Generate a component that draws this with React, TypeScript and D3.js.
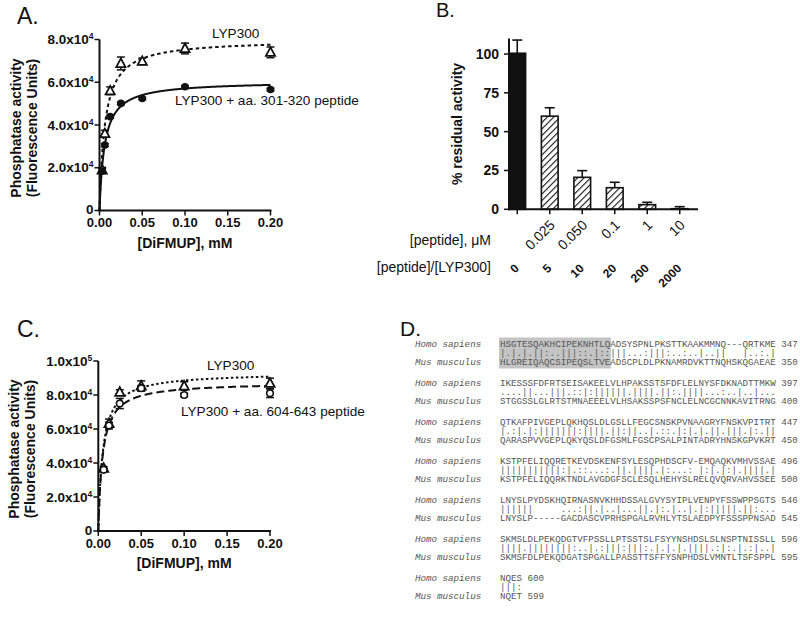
import React from "react";
import * as d3 from "d3";

const SANS = "'Liberation Sans', Arial, Helvetica, sans-serif";
const MONO = "'Liberation Mono', 'Courier New', monospace";

// ---------------- Panel A data ----------------
const aConc = [0.003125, 0.00625, 0.0125, 0.025, 0.05, 0.1, 0.2];
const aLypMean = [19000, 36000, 56000, 68800, 69800, 75800, 74000];
const aLypErr = [1200, 1500, 1800, 3000, 1500, 2500, 2500];
const aPepMean = [18500, 30600, 43900, 50100, 52400, 57900, 56600];
const aPepErr = [1200, 700, 700, 600, 500, 500, 600];
const aLypFit = [80000, 0.0063]; // Vmax, Km
const aPepFit = [60500, 0.006];
const aYTicks = [0, 20000, 40000, 60000, 80000];

// ---------------- Panel C data ----------------
const cConc = [0.00625, 0.0125, 0.025, 0.05, 0.1, 0.2];
const cLypMean = [36900, 63300, 81600, 85300, 85300, 86900];
const cLypErr = [1000, 2500, 1500, 3000, 2500, 3000];
const cPepMean = [36000, 62000, 75000, 84000, 80000, 81000];
const cPepErr = [800, 2000, 3000, 1500, 1000, 2500];
const cLypFit = [93200, 0.0053];
const cPepFit = [87500, 0.005];
const cYTicks = [0, 20000, 40000, 60000, 80000, 100000];

const xTicks = [0, 0.05, 0.1, 0.15, 0.2];
const xTickLabels = ["0.00", "0.05", "0.10", "0.15", "0.20"];

// ---------------- Panel B data ----------------
const bRatio = ["0", "5", "10", "20", "200", "2000"];
const bConc = ["", "0.025", "0.050", "0.1", "1", "10"];
const bValues = [100.5, 60, 20.6, 13.9, 3, 0.4];
const bErr = [8.5, 5.4, 4.3, 3.5, 1.5, 1.3];
const bYTicks = [0, 25, 50, 75, 100];

// ---------------- Panel D data ----------------
const dHomo = [
  "HSGTESQAKHCIPEKNHTLQADSYSPNLPKSTTKAAKMMNQ---QRTKME",
  "IKESSSFDFRTSEISAKEELVLHPAKSSTSFDFLELNYSFDKNADTTMKW",
  "QTKAFPIVGEPLQKHQSLDLGSLLFEGCSNSKPVNAAGRYFNSKVPITRT",
  "KSTPFELIQQRETKEVDSKENFSYLESQPHDSCFV-EMQAQKVMHVSSAE",
  "LNYSLPYDSKHQIRNASNVKHHDSSALGVYSYIPLVENPYFSSWPPSGTS",
  "SKMSLDLPEKQDGTVFPSSLLPTSSTSLFSYYNSHDSLSLNSPTNISSLL",
  "NQES",
];
const dHomoEnd = [347, 397, 447, 496, 546, 596, 600];
const dMatch = [
  "|.|.|.||:..|||::.|::|||...:|||:..:..|..||   |..:.|",
  "....||...|||.::|:||||||.||||.||:.||||...:..|..|...",
  "|.:|.|:|||||||:||||.||:||..|.::.|:|.|.||.|||.|:.||",
  "|||||||||||:|.::...:.||.||||.|:...: |:|.|:|.||||.|",
  "||||||     ...:||.|..|...||.|:.|..|.|:|||||.||:...",
  "||||.||||||||:..|.:|||:|||:.|.|.|.||||.:|:.|.:|..|",
  "|||:",
];
const dMus = [
  "HLGREIQAQCSIPEQSLTVEADSCPLDLPKNAMRDVKTTNQHSKQGAEAE",
  "STGGSSLGLRTSTMNAEEELVLHSAKSSPSFNCLELNCGCNNKAVITRNG",
  "QARASPVVGEPLQKYQSLDFGSMLFGSCPSALPINTADRYHNSKGPVKRT",
  "KSTPFELIQQRKTNDLAVGDGFSCLESQLHEHYSLRELQVQRVAHVSSEE",
  "LNYSLP-----GACDASCVPRHSPGALRVHLYTSLAEDPYFSSSPPNSAD",
  "SKMSFDLPEKQDGATSPGALLPASSTTSFFYSNPHDSLVMNTLTSFSPPL",
  "NQET",
];
const dMusEnd = [350, 400, 450, 500, 545, 595, 599];
const dHighlight = 20;

function sciLabel(v: number) {
  if (v === 0) return { m: "0", e: "" };
  const e = Math.floor(Math.log10(v));
  const m = (v / Math.pow(10, e)).toFixed(1);
  return { m: m + "x10", e: String(e) };
}

type Series = {
  conc: number[];
  mean: number[];
  err: number[];
  fit: number[];
  marker: "tri" | "dot" | "circle";
  dash: string;
};

function Kinetic(props: {
  xr: [number, number];
  yr: [number, number];
  yMax: number;
  yTicks: number[];
  series: Series[];
  labels: { text: string; x: number; y: number }[];
}) {
  const { xr, yr, yMax, yTicks, series, labels } = props;
  const x = d3.scaleLinear().domain([0, 0.2]).range(xr);
  const y = d3.scaleLinear().domain([0, yMax]).range(yr);
  const x0 = xr[0];
  const y0 = yr[0];
  const curveXs = d3.range(0, 0.2 + 1e-9, 0.0004);
  const midY = (yr[0] + yr[1]) / 2;
  return (
    <g fontFamily={SANS}>
      {series.map((s, si) => {
        const gen = d3
          .line<number>()
          .x((d) => x(d))
          .y((d) => y((s.fit[0] * d) / (s.fit[1] + d)));
        return (
          <path
            key={"c" + si}
            d={gen(curveXs) || ""}
            fill="none"
            stroke="#111"
            strokeWidth={2}
            strokeDasharray={s.dash}
          />
        );
      })}
      {series.map((s, si) =>
        s.conc.map((c, i) => {
          const cx = x(c);
          const top = y(s.mean[i] + s.err[i]);
          const bot = y(s.mean[i] - s.err[i]);
          return (
            <g key={"e" + si + "-" + i} stroke="#111" strokeWidth={1.5}>
              <line x1={cx} x2={cx} y1={top} y2={bot} />
              <line x1={cx - 4} x2={cx + 4} y1={top} y2={top} />
              <line x1={cx - 4} x2={cx + 4} y1={bot} y2={bot} />
            </g>
          );
        })
      )}
      {series.map((s, si) =>
        s.conc.map((c, i) => {
          const cx = x(c);
          const cy = y(s.mean[i]);
          if (s.marker === "tri")
            return (
              <path
                key={"m" + si + "-" + i}
                d={`M${cx},${cy - 5} L${cx + 4.6},${cy + 3.6} L${cx - 4.6},${cy + 3.6} Z`}
                fill="#fff"
                stroke="#111"
                strokeWidth={1.8}
              />
            );
          if (s.marker === "dot")
            return <circle key={"m" + si + "-" + i} cx={cx} cy={cy} r={3.8} fill="#111" />;
          return (
            <circle
              key={"m" + si + "-" + i}
              cx={cx}
              cy={cy}
              r={3.3}
              fill="#fff"
              stroke="#111"
              strokeWidth={1.6}
            />
          );
        })
      )}
      {/* axes */}
      <line x1={x0} x2={x0} y1={y0 + 1} y2={y(yMax)} stroke="#111" strokeWidth={2} />
      <line x1={x0 - 1} x2={x(0.2) + 1} y1={y0} y2={y0} stroke="#111" strokeWidth={2} />
      {yTicks.map((t) => {
        const l = sciLabel(t);
        return (
          <g key={"yt" + t}>
            <line x1={x0 - 5} x2={x0} y1={y(t)} y2={y(t)} stroke="#111" strokeWidth={1.5} />
            <text
              x={x0 - 6}
              y={y(t) + (t === 0 ? 3.5 : 4.5)}
              textAnchor="end"
              fontSize={13.5}
              fontWeight="bold"
              fill="#111"
            >
              {l.m}
              {l.e && (
                <tspan dy={-5} fontSize={8.5}>
                  {l.e}
                </tspan>
              )}
            </text>
          </g>
        );
      })}
      {xTicks.map((t, i) => (
        <g key={"xt" + t}>
          <line x1={x(t)} x2={x(t)} y1={y0} y2={y0 + 5} stroke="#111" strokeWidth={1.5} />
          <text
            x={x(t)}
            y={y0 + 16.5}
            textAnchor="middle"
            fontSize={13}
            fontWeight="bold"
            fill="#111"
          >
            {xTickLabels[i]}
          </text>
        </g>
      ))}
      <text
        x={(xr[0] + xr[1]) / 2}
        y={y0 + 37}
        textAnchor="middle"
        fontSize={14}
        fontWeight="bold"
        fill="#111"
      >
        [DiFMUP], mM
      </text>
      <text
        transform={`translate(${x0 - 79},${midY + 3}) rotate(-90)`}
        textAnchor="middle"
        fontSize={14}
        fontWeight="bold"
        fill="#111"
      >
        Phosphatase activity
      </text>
      <text
        transform={`translate(${x0 - 63},${midY + 3}) rotate(-90)`}
        textAnchor="middle"
        fontSize={14}
        fontWeight="bold"
        fill="#111"
      >
        (Fluorescence Units)
      </text>
      {labels.map((lb, i) => (
        <text key={"lb" + i} x={lb.x} y={lb.y} fontSize={13.6} fill="#111">
          {lb.text}
        </text>
      ))}
    </g>
  );
}

function BarPanel() {
  const x = d3
    .scaleBand<string>()
    .domain(bRatio)
    .range([501, 696])
    .paddingInner(0.486)
    .paddingOuter(0.243);
  const y = d3.scaleLinear().domain([0, 110]).range([209.3, 38.5]);
  const bw = x.bandwidth();
  return (
    <g fontFamily={SANS}>
      <defs>
        <pattern
          id="hatch"
          patternUnits="userSpaceOnUse"
          width={4.6}
          height={4.6}
          patternTransform="rotate(45)"
        >
          <rect width={4.6} height={4.6} fill="#fff" />
          <line x1={0} y1={0} x2={0} y2={4.6} stroke="#111" strokeWidth={2.2} />
        </pattern>
      </defs>
      {bRatio.map((c, i) => {
        const bx = x(c) as number;
        const cx = bx + bw / 2;
        const top = y(bValues[i]);
        const etop = y(bValues[i] + bErr[i]);
        return (
          <g key={"bar" + i}>
            <line x1={cx} x2={cx} y1={top} y2={etop} stroke="#111" strokeWidth={1.6} />
            <line x1={cx - 5} x2={cx + 5} y1={etop} y2={etop} stroke="#111" strokeWidth={1.6} />
            <rect
              x={bx}
              y={top}
              width={bw}
              height={y(0) - top}
              fill={i === 0 ? "#111" : "url(#hatch)"}
              stroke="#111"
              strokeWidth={1.6}
            />
          </g>
        );
      })}
      <line x1={509} x2={509} y1={y(0) + 1} y2={y(110)} stroke="#111" strokeWidth={2} />
      <line x1={508} x2={698} y1={y(0)} y2={y(0)} stroke="#111" strokeWidth={2} />
      {bYTicks.map((t) => (
        <g key={"byt" + t}>
          <line x1={504} x2={509} y1={y(t)} y2={y(t)} stroke="#111" strokeWidth={1.5} />
          <text
            x={499}
            y={y(t) + 5}
            textAnchor="end"
            fontSize={14}
            fontWeight="bold"
            fill="#111"
          >
            {t}
          </text>
        </g>
      ))}
      {bRatio.map((c, i) => {
        const cx = (x(c) as number) + bw / 2;
        return (
          <g key={"bxt" + i}>
            <line x1={cx} x2={cx} y1={y(0)} y2={y(0) + 5} stroke="#111" strokeWidth={1.5} />
            {bConc[i] && (
              <text
                transform={`translate(${cx + 6},${226}) rotate(-45)`}
                textAnchor="end"
                fontSize={14}
                fill="#111"
              >
                {bConc[i]}
              </text>
            )}
            <text
              transform={`translate(${cx + 2.5},${269}) rotate(-45)`}
              textAnchor="end"
              fontSize={12}
              fontWeight="bold"
              fill="#111"
            >
              {c}
            </text>
          </g>
        );
      })}
      <text
        transform={`translate(462,124) rotate(-90)`}
        textAnchor="middle"
        fontSize={14}
        fontWeight="bold"
        fill="#111"
      >
        % residual activity
      </text>
      <text x={491} y={245} textAnchor="end" fontSize={14} fill="#111">
        [peptide], μM
      </text>
      <text x={491} y={271.5} textAnchor="end" fontSize={14} fill="#111">
        [peptide]/[LYP300]
      </text>
    </g>
  );
}

function AlignPanel() {
  const fs = 9.2;
  const cw = fs * 0.6;
  const seqX = 500;
  const nameX = 415;
  const rowY = d3
    .scaleLinear()
    .domain([0, dHomo.length - 1])
    .range([344, 578]);
  const col = "#555";
  return (
    <g>
      <rect
        x={seqX - 1}
        y={rowY(0) - 6.5}
        width={dHighlight * cw + 1.5}
        height={31}
        fill="#c4c4c4"
      />
      {dHomo.map((s, i) => {
        const yh = rowY(i);
        return (
          <g key={"blk" + i} fontSize={fs} fill={col}>
            <text x={nameX} y={yh + 3} fontFamily={MONO} fontStyle="italic">
              Homo sapiens
            </text>
            <text x={seqX} y={yh + 3} fontFamily={MONO} style={{ whiteSpace: "pre" }}>
              {s + " " + dHomoEnd[i]}
            </text>
            <text x={seqX} y={yh + 12} fontFamily={MONO} style={{ whiteSpace: "pre" }}>
              {dMatch[i]}
            </text>
            <text x={nameX} y={yh + 21} fontFamily={MONO} fontStyle="italic">
              Mus musculus
            </text>
            <text x={seqX} y={yh + 21} fontFamily={MONO} style={{ whiteSpace: "pre" }}>
              {dMus[i] + " " + dMusEnd[i]}
            </text>
          </g>
        );
      })}
    </g>
  );
}

export default function App() {
  const aSeries: Series[] = [
    { conc: aConc, mean: aLypMean, err: aLypErr, fit: aLypFit, marker: "tri", dash: "3.5,3" },
    { conc: aConc, mean: aPepMean, err: aPepErr, fit: aPepFit, marker: "dot", dash: "" },
  ];
  const cSeries: Series[] = [
    { conc: cConc, mean: cLypMean, err: cLypErr, fit: cLypFit, marker: "tri", dash: "2.5,2.5" },
    { conc: cConc, mean: cPepMean, err: cPepErr, fit: cPepFit, marker: "circle", dash: "8,4" },
  ];
  return (
    <div style={{ position: "absolute", left: 0, top: 0 }}>
      <svg width={800} height={621} style={{ display: "block", background: "#fff" }}>
        <rect width={800} height={621} fill="#fff" />
        <g fontFamily={SANS} fill="#111">
          <text x={17} y={24} fontSize={23}>A.</text>
          <text x={436} y={17} fontSize={20}>B.</text>
          <text x={17} y={337} fontSize={23}>C.</text>
          <text x={400} y={336} fontSize={21}>D.</text>
        </g>
        <Kinetic
          xr={[99.5, 270.5]}
          yr={[210.5, 39.5]}
          yMax={80000}
          yTicks={aYTicks}
          series={aSeries}
          labels={[
            { text: "LYP300", x: 212, y: 38 },
            { text: "LYP300 + aa. 301-320 peptide", x: 175, y: 105 },
          ]}
        />
        <BarPanel />
        <Kinetic
          xr={[98.3, 270]}
          yr={[531, 361]}
          yMax={100000}
          yTicks={cYTicks}
          series={cSeries}
          labels={[
            { text: "LYP300", x: 207, y: 370 },
            { text: "LYP300 + aa. 604-643 peptide", x: 181, y: 416 },
          ]}
        />
        <AlignPanel />
      </svg>
    </div>
  );
}
